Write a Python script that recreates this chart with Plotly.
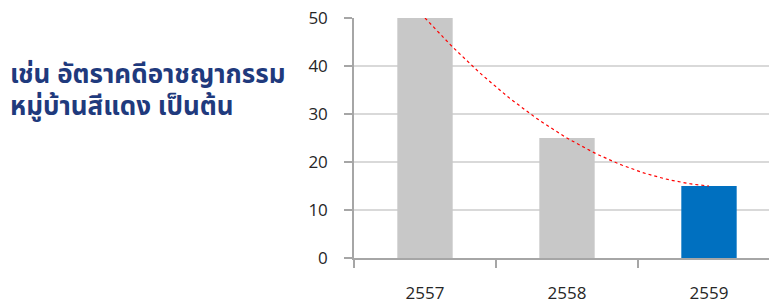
import numpy as np
import plotly.graph_objects as go

years = ["2557", "2558", "2559"]
values = [50, 25, 15]
bar_colors = ["#C8C8C8", "#C8C8C8", "#0070C0"]
y_ticks = [0, 10, 20, 30, 40, 50]
note_lines = ["เช่น อัตราคดีอาชญากรรม", "หมู่บ้านสีแดง เป็นต้น"]

# page body has an 8px margin, so figure coordinates are window coordinates minus 8
W, H = 777, 302
L, R, T, B = 346, 5, 10, 52

xpos = np.arange(len(years))
# Excel-style order-2 polynomial trendline fitted to the bar values
coef = np.polyfit(xpos, values, 2)
tx = np.linspace(xpos[0], xpos[-1], 60)
ty = np.polyval(coef, tx)

fig = go.Figure()
fig.add_trace(go.Bar(x=xpos, y=values, marker=dict(color=bar_colors, line=dict(width=0)),
                     width=0.39, showlegend=False, hoverinfo="skip", cliponaxis=False))
fig.add_trace(go.Scatter(x=tx, y=ty, mode="lines",
                         line=dict(color="#FF0000", width=1.2, dash="dot"),
                         showlegend=False, hoverinfo="skip", cliponaxis=False))

axis_color = "#A6A6A6"
fig.update_layout(
    width=W, height=H,
    margin=dict(l=L, r=R, t=T, b=B, pad=0, autoexpand=False),
    paper_bgcolor="white", plot_bgcolor="white",
    font=dict(family="Open Sans, Noto Sans, sans-serif", color="#333333"),
    xaxis=dict(range=[-0.5, 2.5], tickvals=list(xpos), ticktext=years,
               ticks="", showgrid=False, zeroline=False, showline=True, automargin=False,
               linecolor=axis_color, linewidth=1.5, ticklabelstandoff=19,
               ticklabeloverflow="allow",
               tickfont=dict(size=17, color="#262626"),
               minor=dict(tick0=-0.5, dtick=1, ticks="outside", ticklen=8,
                          tickcolor=axis_color, tickwidth=1.5, showgrid=False)),
    yaxis=dict(range=[0, 50], tickvals=y_ticks, ticks="outside", ticklen=8,
               tickcolor=axis_color, tickwidth=1.5, showline=True, linecolor=axis_color,
               linewidth=1.5, showgrid=True, gridcolor="#D9D9D9", gridwidth=1.5,
               zeroline=False, ticklabelstandoff=13, automargin=False,
               ticklabeloverflow="allow",
               tickfont=dict(size=17, color="#262626")),
)

plot_w = W - L - R
plot_h = H - T - B
for line, ypix in zip(note_lines, [67, 99]):
    fig.add_annotation(xref="paper", yref="paper",
                       x=(0 - L) / plot_w, y=(H - B - ypix) / plot_h,
                       xanchor="left", yanchor="middle", align="left", showarrow=False,
                       text="<b>" + line + "</b>",
                       font=dict(family="Noto Sans Thai, Noto Sans, sans-serif", size=26,
                                 color="#1F3A7D"))

fig.write_html("out.html")
